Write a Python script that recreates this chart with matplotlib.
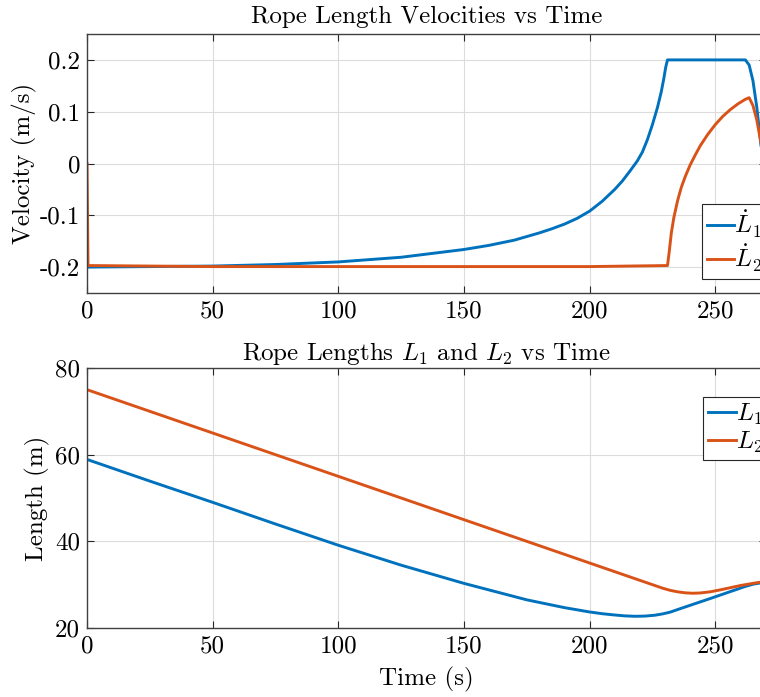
import numpy as np
import matplotlib
matplotlib.use("Agg")
from matplotlib import pyplot as plt

plt.rcParams['font.family'] = 'serif'
plt.rcParams['font.serif'] = ['cmr10', 'DejaVu Serif']
plt.rcParams['mathtext.fontset'] = 'cm'
plt.rcParams['axes.unicode_minus'] = False

# rope length velocities (m/s)
t_v1 = [0, 25, 50, 75, 100, 125, 150, 160, 170, 180, 185, 190, 195, 200, 205, 210, 213, 216, 219,
        221, 223, 225, 227, 228.5, 229.5, 230.3, 231, 262, 263.5, 265, 266.5, 268, 270]
v1 = [-0.2, -0.199, -0.198, -0.195, -0.19, -0.181, -0.166, -0.158, -0.148, -0.134, -0.126,
      -0.117, -0.106, -0.092, -0.073, -0.05, -0.034, -0.015, 0.005, 0.022, 0.046, 0.075, 0.108,
      0.138, 0.163, 0.186, 0.2, 0.2, 0.19, 0.16, 0.11, 0.045, -0.05]

t_v2 = [0, 0.4, 50, 100, 150, 200, 231, 231.7, 232.5, 233.5, 235, 236.5, 238, 240, 242, 244, 247,
        250, 253, 256, 259, 262, 263.5, 265, 266.5, 268, 270]
v2 = [0.0, -0.197, -0.199, -0.199, -0.199, -0.199, -0.197, -0.17, -0.135, -0.105, -0.072,
      -0.046, -0.026, -0.003, 0.016, 0.034, 0.056, 0.075, 0.091, 0.104, 0.115, 0.124, 0.127,
      0.112, 0.085, 0.045, -0.01]

# rope lengths (m)
t_l1 = [0, 25, 50, 75, 100, 125, 150, 175, 190, 200, 205, 210, 214, 218, 222, 226, 229, 232, 236,
        249, 262, 265, 268, 270]
l1 = [58.9, 53.9, 49.0, 44.0, 39.1, 34.5, 30.3, 26.5, 24.7, 23.7, 23.3, 23.0, 22.8, 22.7, 22.75,
      22.95, 23.25, 23.65, 24.45, 27.0, 29.6, 30.1, 30.4, 30.5]

t_l2 = [0, 50, 100, 150, 200, 226, 229, 232, 235, 238, 241, 244, 248, 252, 256, 260, 264, 267, 270]
l2 = [75.0, 65.0, 55.0, 45.0, 35.0, 29.8, 29.2, 28.7, 28.35, 28.12, 28.02, 28.08, 28.35, 28.8,
      29.3, 29.8, 30.2, 30.5, 30.7]

blue = '#0072BD'
orange = '#D95319'
fs = 18

fig = plt.figure(figsize=(7.6, 6.97), dpi=100)
W, H = 760.0, 697.0
ax1 = fig.add_axes([87 / W, 1 - 293 / H, 678.5 / W, 259 / H])
ax2 = fig.add_axes([87 / W, 1 - 628 / H, 678.5 / W, 260 / H])

ax1.plot(t_v1, v1, color=blue, lw=2.1, label=r'$\dot{L}_1$')
ax1.plot(t_v2, v2, color=orange, lw=2.1, label=r'$\dot{L}_2$')
ax2.plot(t_l1, l1, color=blue, lw=2.1, label=r'$L_1$')
ax2.plot(t_l2, l2, color=orange, lw=2.1, label=r'$L_2$')

ax1.set_ylim(-0.25, 0.25)
ax1.set_yticks([-0.2, -0.1, 0, 0.1, 0.2])
ax1.set_yticklabels(['-0.2', '-0.1', '0', '0.1', '0.2'])
ax2.set_ylim(20, 80)
ax2.set_yticks([20, 40, 60, 80])

for ax in (ax1, ax2):
    ax.set_xlim(0, 270)
    ax.set_xticks([0, 50, 100, 150, 200, 250])
    ax.grid(True, color='#dcdcdc', lw=0.8)
    ax.set_axisbelow(True)
    ax.tick_params(direction='in', top=True, right=True, labelsize=fs, length=5,
                   color='#262626', width=0.8, pad=5)
    for s in ax.spines.values():
        s.set_color('#404040')
        s.set_linewidth(1.0)

ax1.set_title('Rope Length Velocities vs Time', fontsize=fs, pad=8)
ax1.set_ylabel('Velocity (m/s)', fontsize=fs, labelpad=2)
ax2.set_title(r'Rope Lengths $L_1$ and $L_2$ vs Time', fontsize=fs, pad=6)
ax2.set_ylabel('Length (m)', fontsize=fs, labelpad=4)
ax2.set_xlabel('Time (s)', fontsize=fs, labelpad=7)

leg_kw = dict(loc='upper left', fontsize=fs, fancybox=False, edgecolor='#262626',
              framealpha=1, borderaxespad=0, handlelength=1.1, handletextpad=0.0,
              labelspacing=0.1, borderpad=0.2)
l = ax1.legend(bbox_to_anchor=(0.906, 0.344), **leg_kw)
l.get_frame().set_linewidth(0.8)
l = ax2.legend(bbox_to_anchor=(0.908, 0.888), **leg_kw)
l.get_frame().set_linewidth(0.8)

fig.savefig('out.png', dpi=100)
